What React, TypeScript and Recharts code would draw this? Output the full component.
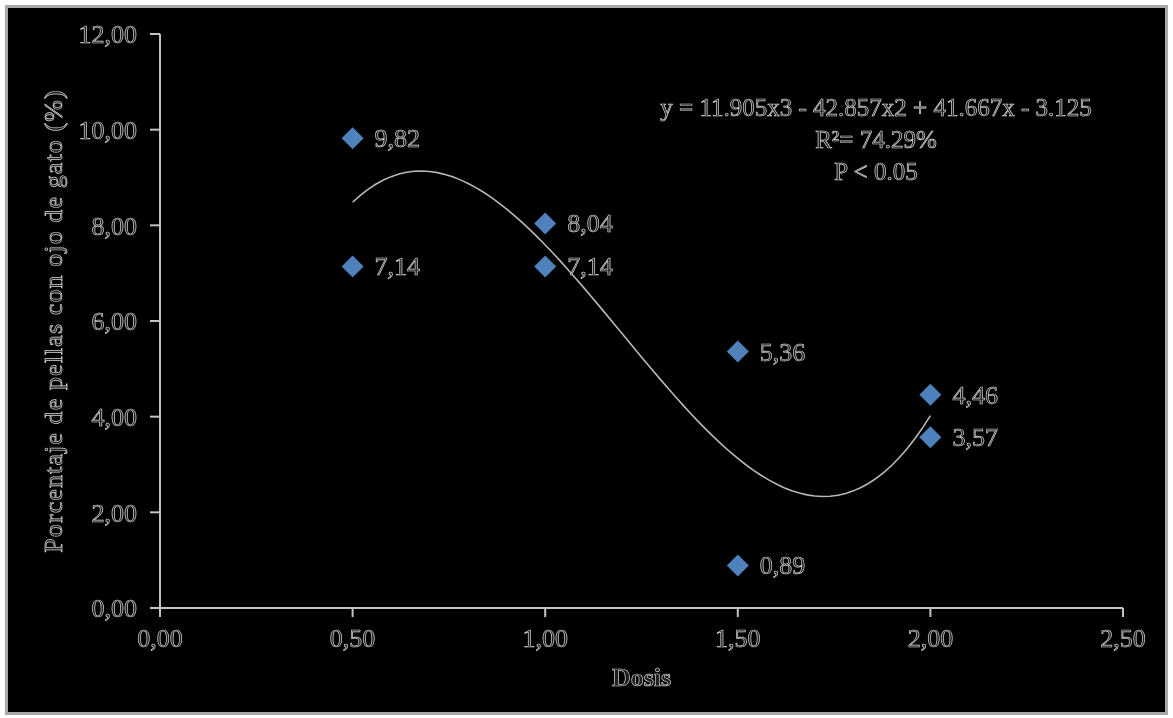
import { ComposedChart, Scatter, XAxis, YAxis } from "recharts";

// Dosis / porcentaje observado
const DOSIS = [0.5, 0.5, 1.0, 1.0, 1.5, 1.5, 2.0, 2.0];
const PORCENTAJE = [9.82, 7.14, 8.04, 7.14, 5.36, 0.89, 4.46, 3.57];

// Coeficientes del ajuste cúbico (x3, x2, x, cte)
const TREND_COEF = [11.905, -42.857, 41.667, -3.125];
const TREND_FROM = 0.5;
const TREND_TO = 2.0;

const X_TICKS = [0, 0.5, 1.0, 1.5, 2.0, 2.5];
const Y_TICKS = [0, 2, 4, 6, 8, 10, 12];

const EQUATION_LINES = [
  "y = 11.905x3 - 42.857x2 + 41.667x - 3.125",
  "R²= 74.29%",
  "P < 0.05",
];

const W = 1173;
const H = 718;
const FONT = "'Liberation Serif', 'Times New Roman', serif";
const TEXT_FILL = "#1e1e1e";
const TEXT_STROKE = "#d6d6d6";
const AXIS = "#c4c4c4";
const MARKER = "#4f81bd";

const fmt = (v: number) => v.toFixed(2).replace(".", ",");

const points = DOSIS.map((x, i) => ({ x, y: PORCENTAJE[i] }));

const polyAt = (x: number) =>
  TREND_COEF[0] * x ** 3 + TREND_COEF[1] * x ** 2 + TREND_COEF[2] * x + TREND_COEF[3];

const trend: { x: number; y: number }[] = [];
for (let k = 0; k <= 75; k++) {
  const x = TREND_FROM + ((TREND_TO - TREND_FROM) * k) / 75;
  trend.push({ x, y: polyAt(x) });
}

const textStyle = {
  fontFamily: FONT,
  fontSize: 26,
  fill: TEXT_FILL,
  stroke: TEXT_STROKE,
  strokeWidth: 0.7,
};

const Diamond = (props: any) => {
  const { cx, cy, payload } = props;
  const r = 11;
  return (
    <g>
      <path
        d={`M${cx},${cy - r} L${cx + r},${cy} L${cx},${cy + r} L${cx - r},${cy} Z`}
        fill={MARKER}
      />
      <text x={cx + 22} y={cy + 9} style={textStyle}>
        {fmt(payload.y)}
      </text>
    </g>
  );
};

const NoDot = () => <g />;

const YTitle = (props: any) => {
  const { viewBox } = props;
  const cy = viewBox.y + viewBox.height / 2;
  return (
    <text
      x={62}
      y={cy}
      transform={`rotate(-90, 62, ${cy})`}
      textAnchor="middle"
      style={{ ...textStyle, letterSpacing: 1.1 }}
    >
      Porcentaje de pellas con ojo de gato (%)
    </text>
  );
};

const XTitle = (props: any) => {
  const { viewBox } = props;
  return (
    <text
      x={viewBox.x + viewBox.width / 2}
      y={686}
      textAnchor="middle"
      style={{ ...textStyle, fontWeight: "bold" }}
    >
      Dosis
    </text>
  );
};

export default function App() {
  return (
    <div style={{ position: "absolute", left: 0, top: 0, width: W, height: H, background: "#fff" }}>
      <div
        style={{
          position: "absolute",
          left: 5,
          top: 5,
          width: W - 10,
          height: H - 8,
          boxSizing: "border-box",
          border: "3px solid #a8a8a8",
          background: "#000",
        }}
      />
      <div style={{ position: "absolute", left: 0, top: 0, willChange: "transform" }}>
        <ComposedChart
          width={W}
          height={H}
          margin={{ top: 34, right: 50, bottom: 50, left: 0 }}
        >
          <XAxis
            type="number"
            dataKey="x"
            domain={[0, 2.5]}
            ticks={X_TICKS}
            tickFormatter={fmt}
            height={60}
            tickSize={9}
            tickMargin={12}
            axisLine={{ stroke: AXIS, strokeWidth: 2 }}
            tickLine={{ stroke: AXIS, strokeWidth: 2 }}
            tick={textStyle}
            interval={0}
            allowDataOverflow
            label={<XTitle />}
          />
          <YAxis
            type="number"
            dataKey="y"
            domain={[0, 12]}
            ticks={Y_TICKS}
            tickFormatter={fmt}
            width={160}
            tickSize={10}
            tickMargin={13}
            axisLine={{ stroke: AXIS, strokeWidth: 2 }}
            tickLine={{ stroke: AXIS, strokeWidth: 2 }}
            tick={textStyle}
            interval={0}
            allowDataOverflow
            label={<YTitle />}
          />
          <Scatter
            data={trend}
            line={{ stroke: "#b8b8b8", strokeWidth: 1.6 }}
            lineType="joint"
            shape={<NoDot />}
            isAnimationActive={false}
          />
          <Scatter data={points} shape={<Diamond />} isAnimationActive={false} />
        </ComposedChart>
      </div>
      <svg
        width={W}
        height={H}
        style={{ position: "absolute", left: 0, top: 0, pointerEvents: "none", willChange: "transform" }}
      >
        {EQUATION_LINES.map((line, i) => (
          <text
            key={line}
            x={876}
            y={116 + i * 32}
            textAnchor="middle"
            style={{ ...textStyle, fontSize: 25 }}
          >
            {line}
          </text>
        ))}
      </svg>
    </div>
  );
}
